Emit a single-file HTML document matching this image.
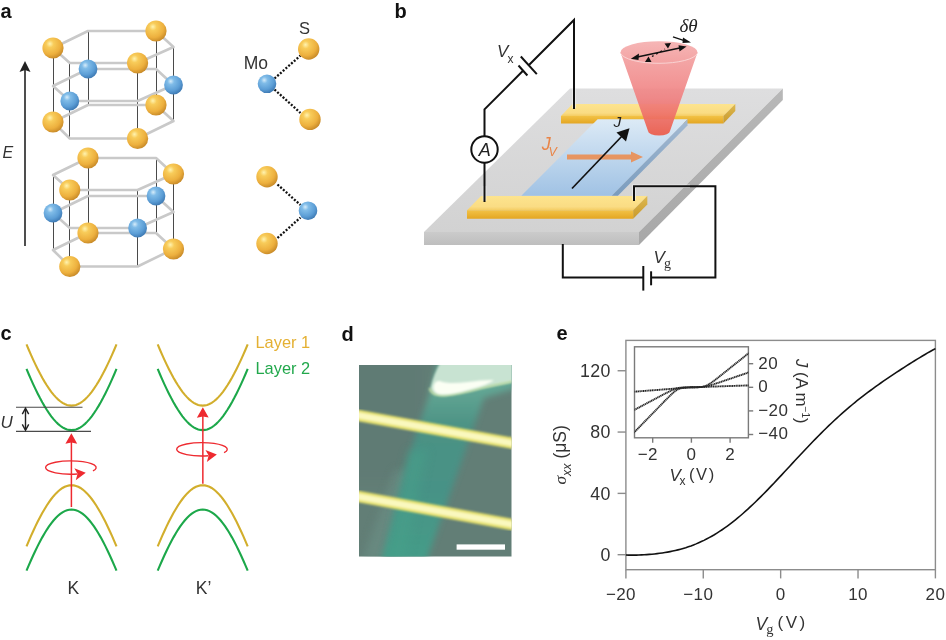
<!DOCTYPE html>
<html><head><meta charset="utf-8"><style>
html,body{margin:0;padding:0;background:#fff;width:946px;height:640px;overflow:hidden}
svg{display:block;position:absolute;left:0;top:0;will-change:transform}
</style></head><body>
<svg width="946" height="640" viewBox="0 0 946 640">
<defs>
<radialGradient id="gold" cx="0.38" cy="0.32" r="0.7" fx="0.35" fy="0.3">
<stop offset="0" stop-color="#FFF3B0"/><stop offset="0.25" stop-color="#F8CC5A"/><stop offset="0.7" stop-color="#EDB03E"/><stop offset="1" stop-color="#C88A28"/></radialGradient>
<radialGradient id="blue" cx="0.38" cy="0.32" r="0.7" fx="0.35" fy="0.3">
<stop offset="0" stop-color="#D6ECFA"/><stop offset="0.25" stop-color="#80BCE8"/><stop offset="0.7" stop-color="#5C9ED6"/><stop offset="1" stop-color="#3E7AB4"/></radialGradient>
<linearGradient id="cone" x1="0" y1="0" x2="0" y2="1">
<stop offset="0" stop-color="#F3A4A4"/><stop offset="0.55" stop-color="#F08282"/><stop offset="1" stop-color="#EC5C4A"/></linearGradient>
<linearGradient id="conetop" x1="0" y1="0" x2="0" y2="1">
<stop offset="0" stop-color="#F6B6B6"/><stop offset="1" stop-color="#F3A2A2"/></linearGradient>
<linearGradient id="chan" x1="0" y1="0" x2="0" y2="1">
<stop offset="0" stop-color="#DCEAF6"/><stop offset="1" stop-color="#A0C2E4"/></linearGradient>
<linearGradient id="sub" x1="0" y1="0" x2="0" y2="1">
<stop offset="0" stop-color="#DEDEDF"/><stop offset="1" stop-color="#D2D2D2"/></linearGradient>
<linearGradient id="subfront" x1="0" y1="0" x2="0" y2="1"><stop offset="0" stop-color="#CBCBCB"/><stop offset="1" stop-color="#BEBEBE"/></linearGradient>
<linearGradient id="subside" x1="0" y1="0" x2="0" y2="1"><stop offset="0" stop-color="#B8B8B8"/><stop offset="1" stop-color="#A8A8A8"/></linearGradient>
<linearGradient id="eltop" x1="0" y1="0" x2="0" y2="1">
<stop offset="0" stop-color="#FDE48E"/><stop offset="0.75" stop-color="#FADC84"/><stop offset="1" stop-color="#F4CC62"/></linearGradient>
<linearGradient id="elfront" x1="0" y1="0" x2="0" y2="1">
<stop offset="0" stop-color="#F2C246"/><stop offset="1" stop-color="#E4A622"/></linearGradient>
<linearGradient id="elside" x1="0" y1="0" x2="0" y2="1">
<stop offset="0" stop-color="#DDB850"/><stop offset="1" stop-color="#C99A2C"/></linearGradient>
<linearGradient id="chanside" x1="0" y1="0" x2="0" y2="1">
<stop offset="0" stop-color="#A4BAD2"/><stop offset="1" stop-color="#7A9CBE"/></linearGradient>
<filter id="bl1" x="-20%" y="-20%" width="140%" height="140%"><feGaussianBlur stdDeviation="1.2"/></filter>
<filter id="bl2" x="-30%" y="-30%" width="160%" height="160%"><feGaussianBlur stdDeviation="2.5"/></filter>
<filter id="bl25" x="-30%" y="-30%" width="160%" height="160%"><feGaussianBlur stdDeviation="3.2"/></filter>
<filter id="bl3" x="-30%" y="-30%" width="160%" height="160%"><feGaussianBlur stdDeviation="4"/></filter>
<clipPath id="photo"><rect x="359" y="365" width="152.5" height="191.5"/></clipPath>
<clipPath id="inset"><rect x="634.5" y="347" width="114" height="91.3"/></clipPath>
</defs>
<text x="0.5" y="18" font-family='"Liberation Sans", sans-serif' font-weight="bold" font-size="20" fill="#111">a</text>
<text x="394.5" y="18" font-family='"Liberation Sans", sans-serif' font-weight="bold" font-size="20" fill="#111">b</text>
<text x="0.5" y="339.5" font-family='"Liberation Sans", sans-serif' font-weight="bold" font-size="20" fill="#111">c</text>
<text x="341.5" y="340.5" font-family='"Liberation Sans", sans-serif' font-weight="bold" font-size="20" fill="#111">d</text>
<text x="556.5" y="340" font-family='"Liberation Sans", sans-serif' font-weight="bold" font-size="20" fill="#111">e</text>
<line x1="53.5" y1="48" x2="53.5" y2="122" stroke="#4A4A4A" stroke-width="1"/>
<line x1="88.5" y1="31" x2="88.5" y2="105" stroke="#4A4A4A" stroke-width="1"/>
<line x1="156.5" y1="31" x2="156.5" y2="105" stroke="#4A4A4A" stroke-width="1"/>
<line x1="173.5" y1="47" x2="173.5" y2="121" stroke="#4A4A4A" stroke-width="1"/>
<line x1="137.5" y1="63" x2="137.5" y2="138.5" stroke="#4A4A4A" stroke-width="1"/>
<line x1="69.5" y1="63" x2="69.5" y2="138.5" stroke="#4A4A4A" stroke-width="1"/>
<polygon points="53,48 88,31 156,31 173.5,47 137.6,63 69.8,63" fill="none" stroke="#C9C9C9" stroke-width="2.6" stroke-linejoin="round"/>
<polygon points="53,86 88,69 156,69 173.5,85 137.6,101 69.8,101" fill="none" stroke="#C9C9C9" stroke-width="2.6" stroke-linejoin="round"/>
<polygon points="53,122 88,105 156,105 173.5,121 137.6,138.5 69.8,138.5" fill="none" stroke="#C9C9C9" stroke-width="2.6" stroke-linejoin="round"/>
<line x1="53.5" y1="175" x2="53.5" y2="250" stroke="#4A4A4A" stroke-width="1"/>
<line x1="88.5" y1="158" x2="88.5" y2="233" stroke="#4A4A4A" stroke-width="1"/>
<line x1="156.5" y1="158" x2="156.5" y2="233" stroke="#4A4A4A" stroke-width="1"/>
<line x1="173.5" y1="174" x2="173.5" y2="249" stroke="#4A4A4A" stroke-width="1"/>
<line x1="137.5" y1="190" x2="137.5" y2="266.5" stroke="#4A4A4A" stroke-width="1"/>
<line x1="69.5" y1="190" x2="69.5" y2="266.5" stroke="#4A4A4A" stroke-width="1"/>
<polygon points="53,175 88,158 156,158 173.5,174 137.6,190 69.8,190" fill="none" stroke="#C9C9C9" stroke-width="2.6" stroke-linejoin="round"/>
<polygon points="53,213 88,196 156,196 173.5,212 137.6,228 69.8,228" fill="none" stroke="#C9C9C9" stroke-width="2.6" stroke-linejoin="round"/>
<polygon points="53,250 88,233 156,233 173.5,249 137.6,266.5 69.8,266.5" fill="none" stroke="#C9C9C9" stroke-width="2.6" stroke-linejoin="round"/>
<circle cx="53" cy="48" r="10.6" fill="url(#gold)"/>
<circle cx="156" cy="31" r="10.6" fill="url(#gold)"/>
<circle cx="137.6" cy="63" r="10.6" fill="url(#gold)"/>
<circle cx="88" cy="69" r="9.4" fill="url(#blue)"/>
<circle cx="173.5" cy="85" r="9.4" fill="url(#blue)"/>
<circle cx="69.8" cy="101" r="9.4" fill="url(#blue)"/>
<circle cx="53" cy="122" r="10.6" fill="url(#gold)"/>
<circle cx="156" cy="105" r="10.6" fill="url(#gold)"/>
<circle cx="137.6" cy="138.5" r="10.6" fill="url(#gold)"/>
<circle cx="88" cy="158" r="10.6" fill="url(#gold)"/>
<circle cx="173.5" cy="174" r="10.6" fill="url(#gold)"/>
<circle cx="69.8" cy="190" r="10.6" fill="url(#gold)"/>
<circle cx="53" cy="213" r="9.4" fill="url(#blue)"/>
<circle cx="156" cy="196" r="9.4" fill="url(#blue)"/>
<circle cx="137.6" cy="228" r="9.4" fill="url(#blue)"/>
<circle cx="88" cy="233" r="10.6" fill="url(#gold)"/>
<circle cx="173.5" cy="249" r="10.6" fill="url(#gold)"/>
<circle cx="69.8" cy="266.5" r="10.6" fill="url(#gold)"/>
<line x1="25" y1="68" x2="25" y2="246" stroke="#222" stroke-width="1.6"/>
<path d="M25,61 L30.5,72 L25,70 L19.5,72 Z" fill="#222"/>
<text x="2.5" y="157.5" font-family='"Liberation Sans", sans-serif' font-style="italic" font-size="16" fill="#333">E</text>
<line x1="274.5" y1="78.5" x2="300.5" y2="55.5" stroke="#111" stroke-width="2.3" stroke-dasharray="2 1.7"/>
<line x1="274.5" y1="89.5" x2="300.5" y2="113" stroke="#111" stroke-width="2.3" stroke-dasharray="2 1.7"/>
<circle cx="308.7" cy="49" r="10.7" fill="url(#gold)"/>
<circle cx="267" cy="83.8" r="9.3" fill="url(#blue)"/>
<circle cx="310" cy="119.4" r="10.7" fill="url(#gold)"/>
<text x="299" y="34" font-family='"Liberation Sans", sans-serif' font-size="16.5" fill="#333">S</text>
<text x="243.8" y="69" font-family='"Liberation Sans", sans-serif' font-size="17.5" fill="#333">Mo</text>
<line x1="277.5" y1="184.5" x2="300.5" y2="205" stroke="#111" stroke-width="2.3" stroke-dasharray="2 1.7"/>
<line x1="277.5" y1="238" x2="300.5" y2="217.5" stroke="#111" stroke-width="2.3" stroke-dasharray="2 1.7"/>
<circle cx="267" cy="176.7" r="10.7" fill="url(#gold)"/>
<circle cx="308" cy="210.7" r="9.3" fill="url(#blue)"/>
<circle cx="267" cy="243.5" r="10.7" fill="url(#gold)"/>
<polygon points="570,88.5 782.8,88.5 639,232 424,232" fill="url(#sub)"/>
<polygon points="424,232 639,232 639,245 424,245" fill="url(#subfront)"/>
<polygon points="639,232 782.8,88.5 782.8,100 639,245" fill="url(#subside)"/>
<polygon points="572.4,104 735.3,104 723.4,116 561,116" fill="url(#eltop)"/>
<polygon points="561,116 723.4,116 723.4,123.4 561,123.4" fill="url(#elfront)"/>
<polygon points="723.4,116 735.3,104 735.3,111 723.4,123.4" fill="url(#elside)"/>
<polygon points="597.6,119.3 687.5,119.3 611.7,195.8 521.3,195.8" fill="url(#chan)"/>
<polygon points="687.5,119.3 687.5,125.5 617.9,195.8 611.7,195.8" fill="url(#chanside)"/>
<polygon points="481,196 647.3,196 633.2,210.3 467,210.3" fill="url(#eltop)"/>
<polygon points="467,210.3 633.2,210.3 633.2,218.75 467,218.75" fill="url(#elfront)"/>
<polygon points="633.2,210.3 647.3,196 647.3,204.6 633.2,218.75" fill="url(#elside)"/>
<g opacity="0.85"><rect x="567" y="154.5" width="65" height="5" fill="#EE8A4A"/><polygon points="631,151.5 643,157 631,162.5" fill="#EE8A4A"/></g>
<line x1="572" y1="188.5" x2="624" y2="134" stroke="#111" stroke-width="1.7"/>
<polygon points="629.5,128.3 616.5,132.5 626,141.5" fill="#111"/>
<text x="613.5" y="127" font-family='"Liberation Sans", sans-serif' font-style="italic" font-size="15.5" fill="#222">J</text>
<text x="541.8" y="150.2" font-family='"Liberation Sans", sans-serif' font-style="italic" font-size="18" fill="#E98548">J</text>
<text x="548.5" y="155.5" font-family='"Liberation Sans", sans-serif' font-style="italic" font-size="12.5" fill="#E98548">V</text>
<path d="M620.5,52.4 L648,131 A11,4.5 0 0 0 670,131 L697.5,52.4 Z" fill="url(#cone)" opacity="0.93"/>
<ellipse cx="659" cy="52.4" rx="38.5" ry="11.2" fill="url(#conetop)"/>
<path d="M620.8,53.5 A38.5,11.2 0 0 0 697.2,53.5" stroke="#F9D2D2" stroke-width="1" fill="none"/>
<line x1="635" y1="57.5" x2="682" y2="47.5" stroke="#111" stroke-width="1.4"/>
<polygon points="630.8,58.7 639,53.5 638.5,60" fill="#111"/><polygon points="686.6,46.6 678.5,45.2 679.5,51.5" fill="#111"/>
<line x1="652" y1="56.5" x2="665" y2="49" stroke="#111" stroke-width="1.3" stroke-dasharray="1.8 3"/>
<polygon points="648.5,56.5 645,62 651.5,62" fill="#111"/><polygon points="668,48.5 664.5,43.5 671,43" fill="#111"/>
<path d="M673,36.8 L685,40.8" stroke="#111" stroke-width="1.3" fill="none"/><polygon points="691,42.5 683,37.5 682.5,43" fill="#111"/>
<text x="679.5" y="31.8" font-family='"Liberation Serif", serif' font-style="italic" font-size="19" fill="#222">δθ</text>
<g stroke="#F4F4F4" stroke-width="3.6" fill="none" opacity="0.75"><line x1="574" y1="88" x2="574" y2="108"/><line x1="484.5" y1="186" x2="484.5" y2="201"/><polyline points="634,200 634,186.3 690,186.3"/></g>
<polyline points="574,109 574,20 529.2,64.7" stroke="#111" stroke-width="2" fill="none"/>
<polyline points="523,70.8 484.5,109.3 484.5,136" stroke="#111" stroke-width="2" fill="none"/>
<line x1="520.8" y1="56.5" x2="536.8" y2="74.1" stroke="#111" stroke-width="2"/>
<line x1="518.5" y1="65.5" x2="527.4" y2="75.5" stroke="#111" stroke-width="2"/>
<circle cx="484.5" cy="149.5" r="13.2" stroke="#111" stroke-width="2" fill="none"/>
<line x1="484.5" y1="162.7" x2="484.5" y2="202" stroke="#111" stroke-width="2" fill="none"/>
<text x="478.8" y="155.6" font-family='"Liberation Sans", sans-serif' font-style="italic" font-size="18" fill="#222">A</text>
<text x="497" y="57" font-family='"Liberation Sans", sans-serif' font-style="italic" font-size="17" fill="#333">V</text>
<text x="507.5" y="63" font-family='"Liberation Sans", sans-serif' font-size="12" fill="#333">x</text>
<polyline points="634,201 634,186.3 715.4,186.3 715.4,277.4 651.1,277.4" stroke="#111" stroke-width="2" fill="none"/>
<polyline points="643.3,277.4 562.8,277.4 562.8,244" stroke="#111" stroke-width="2" fill="none"/>
<line x1="643.3" y1="266" x2="643.3" y2="290.6" stroke="#111" stroke-width="2"/>
<line x1="651.1" y1="271.3" x2="651.1" y2="285.3" stroke="#111" stroke-width="2"/>
<text x="653.5" y="262.7" font-family='"Liberation Sans", sans-serif' font-style="italic" font-size="17" fill="#333">V</text>
<text x="664" y="268" font-family='"Liberation Serif", serif' font-size="14" fill="#333">g</text>
<path d="M26.50,344.40 L28.75,349.72 L31.00,354.88 L33.25,359.85 L35.50,364.63 L37.75,369.22 L40.00,373.59 L42.25,377.73 L44.50,381.63 L46.75,385.29 L49.00,388.68 L51.25,391.79 L53.50,394.61 L55.75,397.14 L58.00,399.35 L60.25,401.24 L62.50,402.80 L64.75,404.02 L67.00,404.90 L69.25,405.42 L71.50,405.60 L73.75,405.42 L76.00,404.90 L78.25,404.02 L80.50,402.80 L82.75,401.24 L85.00,399.35 L87.25,397.14 L89.50,394.61 L91.75,391.79 L94.00,388.68 L96.25,385.29 L98.50,381.63 L100.75,377.73 L103.00,373.59 L105.25,369.22 L107.50,364.63 L109.75,359.85 L112.00,354.88 L114.25,349.72 L116.50,344.40" stroke="#D2AE2C" stroke-width="2.1" fill="none"/>
<path d="M26.50,368.90 L28.75,374.22 L31.00,379.38 L33.25,384.35 L35.50,389.13 L37.75,393.72 L40.00,398.09 L42.25,402.23 L44.50,406.13 L46.75,409.79 L49.00,413.18 L51.25,416.29 L53.50,419.11 L55.75,421.64 L58.00,423.85 L60.25,425.74 L62.50,427.30 L64.75,428.52 L67.00,429.40 L69.25,429.92 L71.50,430.10 L73.75,429.92 L76.00,429.40 L78.25,428.52 L80.50,427.30 L82.75,425.74 L85.00,423.85 L87.25,421.64 L89.50,419.11 L91.75,416.29 L94.00,413.18 L96.25,409.79 L98.50,406.13 L100.75,402.23 L103.00,398.09 L105.25,393.72 L107.50,389.13 L109.75,384.35 L112.00,379.38 L114.25,374.22 L116.50,368.90" stroke="#1CA84A" stroke-width="2.1" fill="none"/>
<path d="M26.50,546.40 L28.75,541.08 L31.00,535.92 L33.25,530.95 L35.50,526.17 L37.75,521.58 L40.00,517.21 L42.25,513.07 L44.50,509.17 L46.75,505.51 L49.00,502.12 L51.25,499.01 L53.50,496.19 L55.75,493.66 L58.00,491.45 L60.25,489.56 L62.50,488.00 L64.75,486.78 L67.00,485.90 L69.25,485.38 L71.50,485.20 L73.75,485.38 L76.00,485.90 L78.25,486.78 L80.50,488.00 L82.75,489.56 L85.00,491.45 L87.25,493.66 L89.50,496.19 L91.75,499.01 L94.00,502.12 L96.25,505.51 L98.50,509.17 L100.75,513.07 L103.00,517.21 L105.25,521.58 L107.50,526.17 L109.75,530.95 L112.00,535.92 L114.25,541.08 L116.50,546.40" stroke="#D2AE2C" stroke-width="2.1" fill="none"/>
<path d="M26.50,570.70 L28.75,565.38 L31.00,560.22 L33.25,555.25 L35.50,550.47 L37.75,545.88 L40.00,541.51 L42.25,537.37 L44.50,533.47 L46.75,529.81 L49.00,526.42 L51.25,523.31 L53.50,520.49 L55.75,517.96 L58.00,515.75 L60.25,513.86 L62.50,512.30 L64.75,511.08 L67.00,510.20 L69.25,509.68 L71.50,509.50 L73.75,509.68 L76.00,510.20 L78.25,511.08 L80.50,512.30 L82.75,513.86 L85.00,515.75 L87.25,517.96 L89.50,520.49 L91.75,523.31 L94.00,526.42 L96.25,529.81 L98.50,533.47 L100.75,537.37 L103.00,541.51 L105.25,545.88 L107.50,550.47 L109.75,555.25 L112.00,560.22 L114.25,565.38 L116.50,570.70" stroke="#1CA84A" stroke-width="2.1" fill="none"/>
<path d="M157.70,344.40 L159.95,349.72 L162.20,354.88 L164.45,359.85 L166.70,364.63 L168.95,369.22 L171.20,373.59 L173.45,377.73 L175.70,381.63 L177.95,385.29 L180.20,388.68 L182.45,391.79 L184.70,394.61 L186.95,397.14 L189.20,399.35 L191.45,401.24 L193.70,402.80 L195.95,404.02 L198.20,404.90 L200.45,405.42 L202.70,405.60 L204.95,405.42 L207.20,404.90 L209.45,404.02 L211.70,402.80 L213.95,401.24 L216.20,399.35 L218.45,397.14 L220.70,394.61 L222.95,391.79 L225.20,388.68 L227.45,385.29 L229.70,381.63 L231.95,377.73 L234.20,373.59 L236.45,369.22 L238.70,364.63 L240.95,359.85 L243.20,354.88 L245.45,349.72 L247.70,344.40" stroke="#D2AE2C" stroke-width="2.1" fill="none"/>
<path d="M157.70,368.90 L159.95,374.22 L162.20,379.38 L164.45,384.35 L166.70,389.13 L168.95,393.72 L171.20,398.09 L173.45,402.23 L175.70,406.13 L177.95,409.79 L180.20,413.18 L182.45,416.29 L184.70,419.11 L186.95,421.64 L189.20,423.85 L191.45,425.74 L193.70,427.30 L195.95,428.52 L198.20,429.40 L200.45,429.92 L202.70,430.10 L204.95,429.92 L207.20,429.40 L209.45,428.52 L211.70,427.30 L213.95,425.74 L216.20,423.85 L218.45,421.64 L220.70,419.11 L222.95,416.29 L225.20,413.18 L227.45,409.79 L229.70,406.13 L231.95,402.23 L234.20,398.09 L236.45,393.72 L238.70,389.13 L240.95,384.35 L243.20,379.38 L245.45,374.22 L247.70,368.90" stroke="#1CA84A" stroke-width="2.1" fill="none"/>
<path d="M157.70,546.40 L159.95,541.08 L162.20,535.92 L164.45,530.95 L166.70,526.17 L168.95,521.58 L171.20,517.21 L173.45,513.07 L175.70,509.17 L177.95,505.51 L180.20,502.12 L182.45,499.01 L184.70,496.19 L186.95,493.66 L189.20,491.45 L191.45,489.56 L193.70,488.00 L195.95,486.78 L198.20,485.90 L200.45,485.38 L202.70,485.20 L204.95,485.38 L207.20,485.90 L209.45,486.78 L211.70,488.00 L213.95,489.56 L216.20,491.45 L218.45,493.66 L220.70,496.19 L222.95,499.01 L225.20,502.12 L227.45,505.51 L229.70,509.17 L231.95,513.07 L234.20,517.21 L236.45,521.58 L238.70,526.17 L240.95,530.95 L243.20,535.92 L245.45,541.08 L247.70,546.40" stroke="#D2AE2C" stroke-width="2.1" fill="none"/>
<path d="M157.70,570.70 L159.95,565.38 L162.20,560.22 L164.45,555.25 L166.70,550.47 L168.95,545.88 L171.20,541.51 L173.45,537.37 L175.70,533.47 L177.95,529.81 L180.20,526.42 L182.45,523.31 L184.70,520.49 L186.95,517.96 L189.20,515.75 L191.45,513.86 L193.70,512.30 L195.95,511.08 L198.20,510.20 L200.45,509.68 L202.70,509.50 L204.95,509.68 L207.20,510.20 L209.45,511.08 L211.70,512.30 L213.95,513.86 L216.20,515.75 L218.45,517.96 L220.70,520.49 L222.95,523.31 L225.20,526.42 L227.45,529.81 L229.70,533.47 L231.95,537.37 L234.20,541.51 L236.45,545.88 L238.70,550.47 L240.95,555.25 L243.20,560.22 L245.45,565.38 L247.70,570.70" stroke="#1CA84A" stroke-width="2.1" fill="none"/>
<line x1="16" y1="407.2" x2="82.5" y2="407.2" stroke="#4A4A4A" stroke-width="1.1"/>
<line x1="16" y1="431.4" x2="91" y2="431.4" stroke="#4A4A4A" stroke-width="1.1"/>
<line x1="25.5" y1="409" x2="25.5" y2="429.5" stroke="#222" stroke-width="1.4"/>
<polyline points="22.3,414.2 25.5,408.3 28.7,414.2" stroke="#222" stroke-width="1.4" fill="none"/>
<polyline points="22.3,424.4 25.5,430.3 28.7,424.4" stroke="#222" stroke-width="1.4" fill="none"/>
<text x="0.5" y="427.7" font-family='"Liberation Sans", sans-serif' font-style="italic" font-size="17" fill="#333">U</text>
<line x1="71.4" y1="507" x2="71.4" y2="441.35" stroke="#EE2A30" stroke-width="1.5"/>
<polygon points="71.4,433.35 77.2,443.75 71.4,442.55 65.4,443.85" fill="#EE2A30"/>
<path d="M92.95,470.85 A25.3,6.7 0 1 0 77.35,474.05" stroke="#EE2A30" stroke-width="1.4" fill="none"/>
<polygon points="85.75,472.65 74.35,468.15 77.55,473.65 75.75,480.25" fill="#EE2A30"/>
<line x1="202.85" y1="483.8" x2="202.85" y2="415.2" stroke="#EE2A30" stroke-width="1.5"/>
<polygon points="202.85,407.2 208.65,417.59999999999997 202.85,416.4 196.85,417.7" fill="#EE2A30"/>
<path d="M224.05,452.60 A25.3,6.7 0 1 0 208.45,455.80" stroke="#EE2A30" stroke-width="1.4" fill="none"/>
<polygon points="216.85,454.40 205.45,449.90 208.65,455.40 206.85,462.00" fill="#EE2A30"/>
<text x="67.5" y="594.2" font-family='"Liberation Sans", sans-serif' font-size="17.5" fill="#333">K</text>
<text x="195.8" y="594.2" font-family='"Liberation Sans", sans-serif' font-size="17.5" fill="#333">K’</text>
<text x="255.5" y="348" font-family='"Liberation Sans", sans-serif' font-size="16.4" fill="#E4B032">Layer 1</text>
<text x="255.5" y="374" font-family='"Liberation Sans", sans-serif' font-size="16.4" fill="#22A84C">Layer 2</text>
<linearGradient id="flk" gradientUnits="userSpaceOnUse" x1="0" y1="390" x2="0" y2="556"><stop offset="0" stop-color="#62A694"/><stop offset="0.22" stop-color="#4C9284"/><stop offset="0.6" stop-color="#479286"/><stop offset="1" stop-color="#459C88"/></linearGradient>
<g clip-path="url(#photo)">
<rect x="355" y="360" width="160" height="200" fill="#627E76"/>
<rect x="350" y="360" width="75" height="120" fill="#5D7773" opacity="0.4" filter="url(#bl3)"/>
<polygon points="395,470 412,470 394,560 362,560" fill="#6A8E84" opacity="0.7" filter="url(#bl3)"/>
<polygon points="439,358 516,358 516,388 484,398 426,562 381,562 413,443 422,416 430,393" fill="url(#flk)" filter="url(#bl25)"/>
<polygon points="408,450 428,450 406,562 386,562" fill="#46A08A" opacity="0.5" filter="url(#bl3)"/>
<path d="M443,358 L516,358 L516,381 Q500,384 482,388 Q460,394 445,395.5 Q431,396 430.5,388 Q434,372 443,358 Z" fill="#C8E3D2" filter="url(#bl1)"/>
<path d="M516,381 Q500,384 482,388 Q460,394 445,395.5 Q431,396 429.5,388" stroke="#CFE6A8" stroke-width="2" fill="none" opacity="0.8" filter="url(#bl1)"/>
<path d="M433.5,387.5 Q434,380 440,381 Q448,384.5 468,382 Q484,379.5 494,380 Q488,385 470,389.5 Q452,395 441,394.5 Q433.5,393.5 433.5,387.5 Z" fill="#FBFFF4" filter="url(#bl1)"/>
<line x1="355" y1="414.8" x2="515" y2="443.7" stroke="#E2DE6C" stroke-width="11.5" filter="url(#bl1)"/>
<line x1="355" y1="414.8" x2="515" y2="443.7" stroke="#FAF8BE" stroke-width="6.5" filter="url(#bl1)"/>
<line x1="355" y1="496.0" x2="515" y2="525.0" stroke="#E2DE6C" stroke-width="11.5" filter="url(#bl1)"/>
<line x1="355" y1="496.0" x2="515" y2="525.0" stroke="#FAF8BE" stroke-width="6.5" filter="url(#bl1)"/>
<rect x="456.6" y="544.4" width="48.4" height="5.3" fill="#FFFFFF"/>
</g>
<rect x="625.9" y="340.4" width="309.5" height="229.3" fill="none" stroke="#8C8C8C" stroke-width="1.4"/>
<line x1="625.90" y1="569.7" x2="625.90" y2="578.4" stroke="#8C8C8C" stroke-width="1.4"/>
<line x1="703.27" y1="569.7" x2="703.27" y2="578.4" stroke="#8C8C8C" stroke-width="1.4"/>
<line x1="780.65" y1="569.7" x2="780.65" y2="578.4" stroke="#8C8C8C" stroke-width="1.4"/>
<line x1="858.02" y1="569.7" x2="858.02" y2="578.4" stroke="#8C8C8C" stroke-width="1.4"/>
<line x1="935.40" y1="569.7" x2="935.40" y2="578.4" stroke="#8C8C8C" stroke-width="1.4"/>
<line x1="617.6" y1="554.70" x2="625.9" y2="554.70" stroke="#8C8C8C" stroke-width="1.4"/>
<line x1="617.6" y1="493.38" x2="625.9" y2="493.38" stroke="#8C8C8C" stroke-width="1.4"/>
<line x1="617.6" y1="432.06" x2="625.9" y2="432.06" stroke="#8C8C8C" stroke-width="1.4"/>
<line x1="617.6" y1="370.74" x2="625.9" y2="370.74" stroke="#8C8C8C" stroke-width="1.4"/>
<text x="620.94" y="599.70" text-anchor="middle" font-family='"Liberation Sans", sans-serif' font-size="17" fill="#333" letter-spacing="0.4">−20</text>
<text x="698.31" y="599.70" text-anchor="middle" font-family='"Liberation Sans", sans-serif' font-size="17" fill="#333" letter-spacing="0.4">−10</text>
<text x="780.65" y="599.70" text-anchor="middle" font-family='"Liberation Sans", sans-serif' font-size="17" fill="#333" letter-spacing="0.4">0</text>
<text x="858.02" y="599.70" text-anchor="middle" font-family='"Liberation Sans", sans-serif' font-size="17" fill="#333" letter-spacing="0.4">10</text>
<text x="935.40" y="599.70" text-anchor="middle" font-family='"Liberation Sans", sans-serif' font-size="17" fill="#333" letter-spacing="0.4">20</text>
<text x="610.60" y="561.10" text-anchor="end" font-family='"Liberation Sans", sans-serif' font-size="17.8" fill="#333" letter-spacing="0.3">0</text>
<text x="610.60" y="499.78" text-anchor="end" font-family='"Liberation Sans", sans-serif' font-size="17.8" fill="#333" letter-spacing="0.3">40</text>
<text x="610.60" y="438.46" text-anchor="end" font-family='"Liberation Sans", sans-serif' font-size="17.8" fill="#333" letter-spacing="0.3">80</text>
<text x="610.60" y="377.14" text-anchor="end" font-family='"Liberation Sans", sans-serif' font-size="17.8" fill="#333" letter-spacing="0.3">120</text>
<path d="M625.90,555.00 L628.50,555.08 L631.10,555.12 L633.70,555.12 L636.30,555.08 L638.90,555.01 L641.51,554.91 L644.11,554.78 L646.71,554.62 L649.31,554.42 L651.91,554.20 L654.51,553.94 L657.11,553.65 L659.71,553.32 L662.31,552.96 L664.91,552.55 L667.51,552.11 L670.11,551.62 L672.72,551.09 L675.32,550.51 L677.92,549.87 L680.52,549.19 L683.12,548.45 L685.72,547.66 L688.32,546.80 L690.92,545.89 L693.52,544.91 L696.12,543.87 L698.72,542.76 L701.32,541.59 L703.93,540.35 L706.53,539.04 L709.13,537.66 L711.73,536.21 L714.33,534.70 L716.93,533.11 L719.53,531.45 L722.13,529.72 L724.73,527.92 L727.33,526.06 L729.93,524.13 L732.53,522.13 L735.14,520.07 L737.74,517.94 L740.34,515.75 L742.94,513.51 L745.54,511.21 L748.14,508.85 L750.74,506.44 L753.34,503.99 L755.94,501.48 L758.54,498.94 L761.14,496.35 L763.74,493.73 L766.35,491.07 L768.95,488.38 L771.55,485.67 L774.15,482.93 L776.75,480.17 L779.35,477.39 L781.95,474.60 L784.55,471.80 L787.15,469.00 L789.75,466.19 L792.35,463.38 L794.95,460.57 L797.56,457.78 L800.16,454.99 L802.76,452.21 L805.36,449.45 L807.96,446.70 L810.56,443.98 L813.16,441.28 L815.76,438.61 L818.36,435.97 L820.96,433.35 L823.56,430.77 L826.16,428.22 L828.77,425.70 L831.37,423.22 L833.97,420.77 L836.57,418.37 L839.17,416.00 L841.77,413.67 L844.37,411.38 L846.97,409.13 L849.57,406.91 L852.17,404.74 L854.77,402.60 L857.37,400.49 L859.98,398.43 L862.58,396.39 L865.18,394.40 L867.78,392.43 L870.38,390.49 L872.98,388.58 L875.58,386.70 L878.18,384.85 L880.78,383.02 L883.38,381.21 L885.98,379.42 L888.58,377.65 L891.19,375.90 L893.79,374.16 L896.39,372.44 L898.99,370.73 L901.59,369.04 L904.19,367.35 L906.79,365.69 L909.39,364.03 L911.99,362.39 L914.59,360.76 L917.19,359.15 L919.79,357.56 L922.40,355.99 L925.00,354.44 L927.60,352.93 L930.20,351.46 L932.80,350.03 L935.40,348.65" stroke="#111" stroke-width="1.6" fill="none"/>
<text x="755.5" y="629.6" font-family='"Liberation Sans", sans-serif' font-style="italic" font-size="17.5" fill="#333">V</text>
<text x="766.3" y="634" font-family='"Liberation Serif", serif' font-size="14.5" fill="#333">g</text>
<text x="777.6" y="628.3" font-family='"Liberation Sans", sans-serif' font-size="17" fill="#333" letter-spacing="2.4">(V)</text>
<g transform="translate(565.6,484.6) rotate(-90)"><text x="0" y="0" font-family='"Liberation Sans", sans-serif' font-size="17.5" fill="#333"><tspan font-style="italic" font-family='"Liberation Serif", serif'>σ</tspan><tspan font-style="italic" font-size="12.5" dy="5">xx</tspan><tspan dy="-5"> (μS)</tspan></text></g>
<rect x="634.5" y="346.8" width="113.9" height="91.0" fill="#fff" stroke="#7A7A7A" stroke-width="1.4"/>
<line x1="652.70" y1="437.8" x2="652.70" y2="442.7" stroke="#7A7A7A" stroke-width="1.4"/>
<text x="647.74" y="460.20" text-anchor="middle" font-family='"Liberation Sans", sans-serif' font-size="17" fill="#333" letter-spacing="0.4">−2</text>
<line x1="691.40" y1="437.8" x2="691.40" y2="442.7" stroke="#7A7A7A" stroke-width="1.4"/>
<text x="691.40" y="460.20" text-anchor="middle" font-family='"Liberation Sans", sans-serif' font-size="17" fill="#333" letter-spacing="0.4">0</text>
<line x1="730.10" y1="437.8" x2="730.10" y2="442.7" stroke="#7A7A7A" stroke-width="1.4"/>
<text x="730.10" y="460.20" text-anchor="middle" font-family='"Liberation Sans", sans-serif' font-size="17" fill="#333" letter-spacing="0.4">2</text>
<line x1="748.4" y1="363.70" x2="753.2" y2="363.70" stroke="#7A7A7A" stroke-width="1.4"/>
<text x="758.30" y="368.50" text-anchor="start" font-family='"Liberation Sans", sans-serif' font-size="17" fill="#333" letter-spacing="0.4">20</text>
<line x1="748.4" y1="387.30" x2="753.2" y2="387.30" stroke="#7A7A7A" stroke-width="1.4"/>
<text x="758.30" y="392.10" text-anchor="start" font-family='"Liberation Sans", sans-serif' font-size="17" fill="#333" letter-spacing="0.4">0</text>
<line x1="748.4" y1="410.90" x2="753.2" y2="410.90" stroke="#7A7A7A" stroke-width="1.4"/>
<text x="758.30" y="415.70" text-anchor="start" font-family='"Liberation Sans", sans-serif' font-size="17" fill="#333" letter-spacing="0.4">−20</text>
<line x1="748.4" y1="434.50" x2="753.2" y2="434.50" stroke="#7A7A7A" stroke-width="1.4"/>
<text x="758.30" y="439.30" text-anchor="start" font-family='"Liberation Sans", sans-serif' font-size="17" fill="#333" letter-spacing="0.4">−40</text>
<text x="669.5" y="480.6" font-family='"Liberation Sans", sans-serif' font-style="italic" font-size="17" fill="#333">V</text>
<text x="679.5" y="485" font-family='"Liberation Sans", sans-serif' font-size="12" fill="#333">x</text>
<text x="689" y="480" font-family='"Liberation Sans", sans-serif' font-size="16.5" fill="#333" letter-spacing="1.6">(V)</text>
<g transform="translate(795.8,359) rotate(90)"><text x="0" y="0" font-family='"Liberation Sans", sans-serif' font-size="16.8" fill="#333"><tspan font-style="italic">J</tspan> (A m<tspan font-size="10" dy="-6">−1</tspan><tspan dy="6">)</tspan></text></g>
<g clip-path="url(#inset)">
<path d="M632.50,434.07 L633.68,432.86 L634.86,431.65 L636.04,430.44 L637.22,429.23 L638.39,428.01 L639.57,426.80 L640.75,425.59 L641.93,424.38 L643.11,423.17 L644.29,421.95 L645.47,420.74 L646.65,419.53 L647.83,418.32 L649.01,417.11 L650.18,415.89 L651.36,414.68 L652.54,413.47 L653.72,412.26 L654.90,411.05 L656.08,409.84 L657.26,408.62 L658.44,407.41 L659.62,406.20 L660.80,404.99 L661.98,403.78 L663.15,402.58 L664.33,401.37 L665.51,400.17 L666.69,398.98 L667.87,397.80 L669.05,396.63 L670.23,395.48 L671.41,394.36 L672.59,393.28 L673.76,392.25 L674.94,391.31 L676.12,390.46 L677.30,389.72 L678.48,389.10 L679.66,388.60 L680.84,388.22 L682.02,387.94 L683.20,387.74 L684.38,387.60 L685.55,387.50 L686.73,387.43 L687.91,387.39 L689.09,387.35 L690.27,387.33 L691.45,387.31 L692.63,387.30 L693.81,387.28 L694.99,387.26 L696.17,387.23 L697.35,387.20 L698.52,387.14 L699.70,387.06 L700.88,386.95 L702.06,386.79 L703.24,386.56 L704.42,386.26 L705.60,385.87 L706.78,385.38 L707.96,384.80 L709.13,384.13 L710.31,383.39 L711.49,382.59 L712.67,381.75 L713.85,380.88 L715.03,379.98 L716.21,379.07 L717.39,378.15 L718.57,377.22 L719.75,376.28 L720.92,375.35 L722.10,374.41 L723.28,373.47 L724.46,372.53 L725.64,371.58 L726.82,370.64 L728.00,369.70 L729.18,368.76 L730.36,367.81 L731.54,366.87 L732.71,365.93 L733.89,364.98 L735.07,364.04 L736.25,363.10 L737.43,362.16 L738.61,361.21 L739.79,360.27 L740.97,359.33 L742.15,358.38 L743.33,357.44 L744.50,356.50 L745.68,355.55 L746.86,354.61 L748.04,353.67 L749.22,352.72 L750.40,351.78" stroke="#262626" stroke-width="1.9" fill="none" stroke-dasharray="1.3 0.45"/>
<path d="M632.50,410.89 L633.68,410.26 L634.86,409.64 L636.04,409.01 L637.22,408.39 L638.39,407.76 L639.57,407.14 L640.75,406.51 L641.93,405.89 L643.11,405.26 L644.29,404.64 L645.47,404.01 L646.65,403.39 L647.83,402.76 L649.01,402.14 L650.18,401.51 L651.36,400.89 L652.54,400.26 L653.72,399.64 L654.90,399.01 L656.08,398.39 L657.26,397.76 L658.44,397.14 L659.62,396.52 L660.80,395.89 L661.98,395.27 L663.15,394.65 L664.33,394.03 L665.51,393.42 L666.69,392.80 L667.87,392.20 L669.05,391.60 L670.23,391.02 L671.41,390.46 L672.59,389.93 L673.76,389.44 L674.94,388.99 L676.12,388.60 L677.30,388.27 L678.48,388.01 L679.66,387.80 L680.84,387.65 L682.02,387.54 L683.20,387.46 L684.38,387.41 L685.55,387.37 L686.73,387.35 L687.91,387.33 L689.09,387.32 L690.27,387.31 L691.45,387.30 L692.63,387.29 L693.81,387.29 L694.99,387.27 L696.17,387.26 L697.35,387.24 L698.52,387.20 L699.70,387.16 L700.88,387.09 L702.06,387.00 L703.24,386.88 L704.42,386.72 L705.60,386.52 L706.78,386.28 L707.96,386.00 L709.13,385.69 L710.31,385.35 L711.49,385.00 L712.67,384.63 L713.85,384.25 L715.03,383.86 L716.21,383.47 L717.39,383.08 L718.57,382.68 L719.75,382.28 L720.92,381.88 L722.10,381.48 L723.28,381.08 L724.46,380.68 L725.64,380.28 L726.82,379.88 L728.00,379.48 L729.18,379.08 L730.36,378.68 L731.54,378.28 L732.71,377.88 L733.89,377.48 L735.07,377.08 L736.25,376.67 L737.43,376.27 L738.61,375.87 L739.79,375.47 L740.97,375.07 L742.15,374.67 L743.33,374.27 L744.50,373.87 L745.68,373.47 L746.86,373.07 L748.04,372.67 L749.22,372.26 L750.40,371.86" stroke="#262626" stroke-width="1.9" fill="none" stroke-dasharray="1.3 0.45"/>
<path d="M632.50,391.84 L633.68,391.74 L634.86,391.65 L636.04,391.56 L637.22,391.47 L638.39,391.38 L639.57,391.29 L640.75,391.20 L641.93,391.11 L643.11,391.02 L644.29,390.93 L645.47,390.84 L646.65,390.75 L647.83,390.66 L649.01,390.56 L650.18,390.47 L651.36,390.38 L652.54,390.29 L653.72,390.20 L654.90,390.11 L656.08,390.02 L657.26,389.93 L658.44,389.84 L659.62,389.75 L660.80,389.66 L661.98,389.57 L663.15,389.47 L664.33,389.38 L665.51,389.29 L666.69,389.20 L667.87,389.11 L669.05,389.02 L670.23,388.93 L671.41,388.84 L672.59,388.75 L673.76,388.66 L674.94,388.57 L676.12,388.48 L677.30,388.39 L678.48,388.29 L679.66,388.20 L680.84,388.11 L682.02,388.02 L683.20,387.93 L684.38,387.84 L685.55,387.75 L686.73,387.66 L687.91,387.57 L689.09,387.48 L690.27,387.40 L691.45,387.33 L692.63,387.27 L693.81,387.22 L694.99,387.18 L696.17,387.14 L697.35,387.10 L698.52,387.06 L699.70,387.03 L700.88,386.99 L702.06,386.95 L703.24,386.91 L704.42,386.87 L705.60,386.83 L706.78,386.79 L707.96,386.75 L709.13,386.71 L710.31,386.68 L711.49,386.64 L712.67,386.60 L713.85,386.56 L715.03,386.52 L716.21,386.48 L717.39,386.44 L718.57,386.40 L719.75,386.36 L720.92,386.33 L722.10,386.29 L723.28,386.25 L724.46,386.21 L725.64,386.17 L726.82,386.13 L728.00,386.09 L729.18,386.05 L730.36,386.01 L731.54,385.98 L732.71,385.94 L733.89,385.90 L735.07,385.86 L736.25,385.82 L737.43,385.78 L738.61,385.74 L739.79,385.70 L740.97,385.66 L742.15,385.63 L743.33,385.59 L744.50,385.55 L745.68,385.51 L746.86,385.47 L748.04,385.43 L749.22,385.39 L750.40,385.35" stroke="#262626" stroke-width="1.9" fill="none" stroke-dasharray="1.3 0.45"/>
</g>
</svg>
</body></html>
